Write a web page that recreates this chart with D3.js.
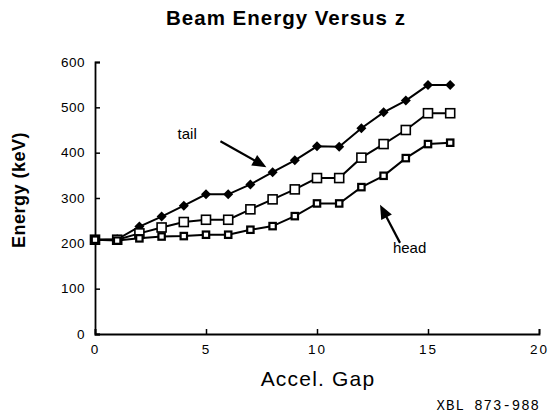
<!DOCTYPE html>
<html><head><meta charset="utf-8">
<script src="https://cdn.jsdelivr.net/npm/d3@7"></script>
<style>body{margin:0;background:#fff}svg{display:block}</style>
</head><body>
<script>
const gaps = [0,1,2,3,4,5,6,7,8,9,10,11,12,13,14,15,16];
const tailEnergy = [208,209,237,259,283,308,308,330,357,383,414,413,454,489,515,549,549];
const midEnergy  = [208,208,222,235,247,252,252,275,297,319,344,344,389,419,450,487,487];
const headEnergy = [208,206,211,215,216,219,219,230,238,260,288,288,324,349,388,419,422];
const xTicks = [0,5,10,15,20];
const yTicks = [0,100,200,300,400,500,600];
const titleText = "Beam Energy Versus z";
const xLabel = "Accel. Gap";
const yLabel = "Energy (keV)";
const credit = "XBL 873-988";

const W=548,H=414;
const svg=d3.select("body").append("svg").attr("width",W).attr("height",H);
const x=d3.scaleLinear().domain([0,20]).range([95,539]);
const y=d3.scaleLinear().domain([0,600]).range([334,62]);
const font="'Liberation Sans', Arial, sans-serif";

svg.append("text").attr("x",286).attr("y",25).attr("text-anchor","middle")
  .attr("font-family",font).attr("font-weight","bold").attr("font-size",20.5)
  .attr("letter-spacing",1).text(titleText);

const ax=svg.append("g").attr("transform",`translate(0,${y(0)})`)
  .call(d3.axisBottom(x).tickValues(xTicks).tickSize(-5).tickPadding(10).tickFormat(d3.format("d")));
ax.selectAll("text").attr("font-family",font).attr("font-size",13.5).attr("letter-spacing",2).attr("fill","#000");
const ay=svg.append("g").attr("transform",`translate(${x(0)},0)`)
  .call(d3.axisLeft(y).tickValues(yTicks).tickSize(-5).tickPadding(10).tickFormat(d3.format("d")));
ay.selectAll("text").attr("font-family",font).attr("font-size",13.5).attr("letter-spacing",0.5).attr("fill","#000");
svg.selectAll(".domain").attr("stroke","#000").attr("stroke-width",1.8);
svg.selectAll(".tick line").attr("stroke","#000").attr("stroke-width",1.5);

svg.append("text").attr("x",318).attr("y",386).attr("text-anchor","middle")
  .attr("font-family",font).attr("font-size",21).attr("letter-spacing",1.2).text(xLabel);
svg.append("text").attr("transform","translate(25,190) rotate(-90)").attr("text-anchor","middle")
  .attr("font-family",font).attr("font-weight","bold").attr("font-size",18).attr("letter-spacing",0.5).text(yLabel);
svg.append("text").attr("x",540).attr("y",410).attr("text-anchor","end")
  .attr("font-family","'Liberation Mono', monospace").attr("font-size",14).attr("letter-spacing",1).text(credit);

const line=d3.line().x((d,i)=>x(gaps[i])).y(d=>y(d));
[tailEnergy,midEnergy,headEnergy].forEach(s=>{
  svg.append("path").datum(s).attr("d",line).attr("fill","none").attr("stroke","#000").attr("stroke-width",2);
});
svg.append("g").selectAll("path").data(tailEnergy).join("path")
  .attr("transform",(d,i)=>`translate(${x(gaps[i])},${y(d)})`)
  .attr("d","M0,-5L5,0L0,5L-5,0Z").attr("fill","#000");
svg.append("g").selectAll("rect").data(midEnergy).join("rect")
  .attr("x",(d,i)=>x(gaps[i])-4.5).attr("y",d=>y(d)-4.5).attr("width",9).attr("height",9)
  .attr("fill","#fff").attr("stroke","#000").attr("stroke-width",1.6);
svg.append("g").selectAll("rect").data(headEnergy).join("rect")
  .attr("x",(d,i)=>x(gaps[i])-3.2).attr("y",d=>y(d)-3.2).attr("width",6.4).attr("height",6.4)
  .attr("fill","#fff").attr("stroke","#000").attr("stroke-width",2.2);

function arrow(x0,y0,x1,y1){
  const X0=x(x0),Y0=y(y0),X1=x(x1),Y1=y(y1);
  const a=Math.atan2(Y1-Y0,X1-X0),L=14,w=6;
  const bx=X1-L*Math.cos(a),by=Y1-L*Math.sin(a);
  svg.append("line").attr("x1",X0).attr("y1",Y0).attr("x2",bx+3*Math.cos(a)).attr("y2",by+3*Math.sin(a))
    .attr("stroke","#000").attr("stroke-width",2.2);
  svg.append("path").attr("d",`M${X1},${Y1}L${bx-w*Math.sin(a)},${by+w*Math.cos(a)}L${bx+w*Math.sin(a)},${by-w*Math.cos(a)}Z`).attr("fill","#000");
}
svg.append("text").attr("x",x(3.72)).attr("y",y(430)).attr("font-family",font).attr("font-size",15).text("tail");
arrow(5.65,425,7.72,368);
svg.append("text").attr("x",x(13.42)).attr("y",y(179)).attr("font-family",font).attr("font-size",15).text("head");
arrow(13.74,201,12.84,285);
</script>
</body></html>
